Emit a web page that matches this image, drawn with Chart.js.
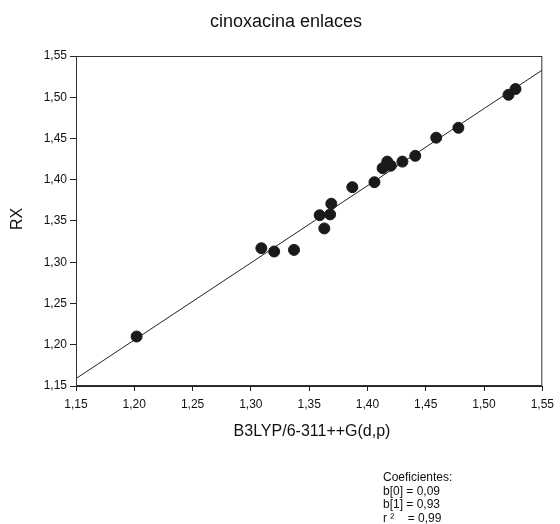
<!DOCTYPE html>
<html>
<head>
<meta charset="utf-8">
<script src="https://cdn.jsdelivr.net/npm/chart.js@4.4.1/dist/chart.umd.min.js"></script>
<style>
  html, body { margin: 0; padding: 0; background: #fff; }
  #wrap { width: 560px; height: 524px; position: relative; }
</style>
</head>
<body>
<div id="wrap"><canvas id="chart"></canvas></div>
<script>
// data (B3LYP vs RX bond lengths)
const calcX = [1.202, 1.309, 1.320, 1.337, 1.359, 1.363, 1.368, 1.369, 1.387, 1.406,
               1.413, 1.417, 1.420, 1.430, 1.441, 1.459, 1.478, 1.521, 1.527];
const rxY = [1.210, 1.317, 1.313, 1.315, 1.357, 1.341, 1.358, 1.371, 1.391, 1.397,
             1.414, 1.422, 1.417, 1.422, 1.429, 1.451, 1.463, 1.503, 1.510];
// regression line ends
const fitX = [1.15, 1.55];
const fitY = [1.159, 1.533];
const xTicks = [1.15, 1.20, 1.25, 1.30, 1.35, 1.40, 1.45, 1.50, 1.55];
const yTicks = [1.15, 1.20, 1.25, 1.30, 1.35, 1.40, 1.45, 1.50, 1.55];
const coefLines = ['Coeficientes:', 'b[0] = 0,09', 'b[1] = 0,93', 'r \u00B2    = 0,99'];

const FONT = 'Liberation Sans, Arial, sans-serif';
const fmt = v => v.toFixed(2).replace('.', ',');

const textPlugin = {
    id: 'texts',
    afterDraw(chart) {
        const ctx = chart.ctx;
        const a = chart.chartArea;
        ctx.save();
        // frame
        ctx.strokeStyle = '#333';
        ctx.lineWidth = 1;
        ctx.strokeRect(a.left + 0.5, a.top + 0.5, a.right - a.left - 1, a.bottom - a.top - 1);
        ctx.fillStyle = '#111';
        ctx.textAlign = 'center';
        ctx.textBaseline = 'middle';
        ctx.font = '18px ' + FONT;
        ctx.fillText('cinoxacina enlaces', 286, 22);
        ctx.font = '16px ' + FONT;
        ctx.fillText('B3LYP/6-311++G(d,p)', 312, 432);
        ctx.save();
        ctx.translate(18, 219);
        ctx.rotate(-Math.PI / 2);
        ctx.fillText('RX', 0, 0);
        ctx.restore();
        ctx.textAlign = 'left';
        ctx.font = '12px ' + FONT;
        coefLines.forEach((t, i) => ctx.fillText(t, 383, 478 + i * 13.5));
        ctx.restore();
    }
};

new Chart(document.getElementById('chart'), {
    type: 'scatter',
    data: {
        datasets: [{
            label: 'RX',
            data: calcX.map((x, i) => ({ x: x, y: rxY[i] })),
            backgroundColor: '#1a1a1a',
            borderColor: '#1a1a1a',
            pointRadius: 5.5,
            order: 1
        }, {
            label: 'fit',
            type: 'line',
            data: fitX.map((x, i) => ({ x: x, y: fitY[i] })),
            borderColor: '#222',
            borderWidth: 1,
            pointRadius: 0,
            fill: false,
            order: 2
        }]
    },
    options: {
        responsive: true,
        maintainAspectRatio: false,
        animation: false,
        layout: { padding: { top: 56, right: 14, left: 0, bottom: 0 } },
        plugins: {
            legend: { display: false },
            tooltip: { enabled: false }
        },
        scales: {
            x: {
                type: 'linear',
                min: 1.15,
                max: 1.55,
                afterBuildTicks: s => { s.ticks = xTicks.map(v => ({ value: v })); },
                afterFit: s => { s.height = 138; },
                grid: { drawOnChartArea: false, drawTicks: true, tickLength: 5, color: '#222' },
                border: { display: true, color: '#222' },
                ticks: {
                    padding: 6,
                    color: '#111',
                    font: { family: FONT, size: 12 },
                    maxRotation: 0,
                    callback: v => fmt(v)
                }
            },
            y: {
                type: 'linear',
                min: 1.15,
                max: 1.55,
                afterBuildTicks: s => { s.ticks = yTicks.map(v => ({ value: v })); },
                afterFit: s => { s.width = 76; },
                grid: { drawOnChartArea: false, drawTicks: true, tickLength: 6, color: '#222' },
                border: { display: true, color: '#222' },
                ticks: {
                    padding: 3,
                    color: '#111',
                    font: { family: FONT, size: 12 },
                    callback: v => fmt(v)
                }
            }
        }
    },
    plugins: [textPlugin]
});
</script>
</body>
</html>
